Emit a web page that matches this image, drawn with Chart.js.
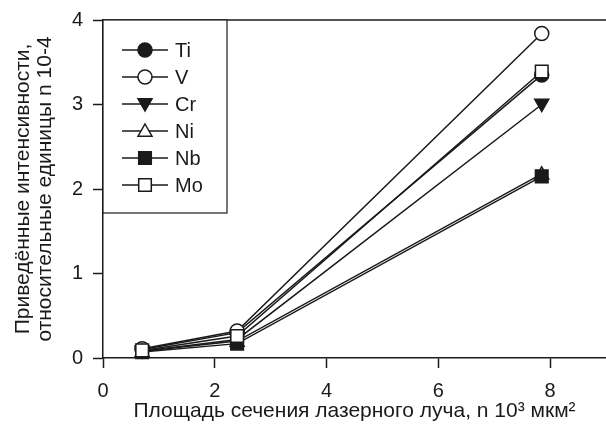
<!DOCTYPE html>
<html>
<head>
<meta charset="utf-8">
<script src="https://cdn.jsdelivr.net/npm/chart.js@4.4.1/dist/chart.umd.min.js"></script>
<style>
  html, body { margin: 0; padding: 0; background: #fff; }
  #wrap { width: 606px; height: 430px; }
</style>
</head>
<body>
<div id="wrap"><canvas id="chart" width="606" height="430"></canvas></div>
<script>
// площадь сечения, 10^3 мкм^2
const xValues = [0.7, 2.4, 7.85];

const seriesNames = ['Ti', 'V', 'Cr', 'Ni', 'Nb', 'Mo'];
const tiValues = [0.10, 0.30, 3.35];
const vValues  = [0.11, 0.32, 3.84];
const crValues = [0.08, 0.22, 3.00];
const niValues = [0.08, 0.20, 2.18];
const nbValues = [0.07, 0.17, 2.15];
const moValues = [0.09, 0.26, 3.39];

const xTicks = [0, 2, 4, 6, 8];
const yTicks = [0, 1, 2, 3, 4];

const ink = '#1a1a1a';
const family = '"Liberation Sans", Arial, sans-serif';
const tickFont = { family: family, size: 20 };
const titleFont = { family: family, size: 21, lineHeight: 1.05 };

// маркеры в порядке легенды
const markers = [
  { style: 'circle', fill: ink },
  { style: 'circle', fill: '#fff' },
  { style: 'triangleDown', fill: ink },
  { style: 'triangle', fill: '#fff' },
  { style: 'rect', fill: ink },
  { style: 'rect', fill: '#fff' }
];

function drawMarker(ctx, style, fill, x, y, r) {
  ctx.save();
  ctx.beginPath();
  if (style === 'circle') {
    ctx.arc(x, y, r, 0, Math.PI * 2);
  } else if (style === 'rect') {
    ctx.rect(x - r * 0.9, y - r * 0.9, r * 1.8, r * 1.8);
  } else if (style === 'triangle') {
    ctx.moveTo(x, y - r);
    ctx.lineTo(x + r, y + r * 0.75);
    ctx.lineTo(x - r, y + r * 0.75);
    ctx.closePath();
  } else {
    ctx.moveTo(x - r, y - r * 0.75);
    ctx.lineTo(x + r, y - r * 0.75);
    ctx.lineTo(x, y + r);
    ctx.closePath();
  }
  ctx.fillStyle = fill;
  ctx.fill();
  ctx.lineWidth = 1.5;
  ctx.strokeStyle = ink;
  ctx.stroke();
  ctx.restore();
}

// кастомная отрисовка точек и легенды
const markerPlugin = {
  id: 'markerPlugin',
  afterDatasetsDraw(chart) {
    const ctx = chart.ctx;
    const area = chart.chartArea;
    // верхняя рамка
    ctx.save();
    ctx.strokeStyle = ink;
    ctx.lineWidth = 1.5;
    ctx.beginPath();
    ctx.moveTo(area.left, area.top);
    ctx.lineTo(area.right, area.top);
    ctx.stroke();
    ctx.restore();

    // точки
    chart.data.datasets.forEach((ds, i) => {
      const meta = chart.getDatasetMeta(i);
      meta.data.forEach(pt => {
        drawMarker(ctx, markers[i].style, markers[i].fill, pt.x, pt.y, 7);
      });
    });

    // легенда
    const boxL = area.left, boxT = area.top, boxR = 227, boxB = 213;
    ctx.save();
    ctx.fillStyle = '#fff';
    ctx.fillRect(boxL, boxT, boxR - boxL, boxB - boxT);
    ctx.strokeStyle = ink;
    ctx.lineWidth = 1.2;
    ctx.strokeRect(boxL, boxT, boxR - boxL, boxB - boxT);
    ctx.font = '20px ' + family;
    ctx.textBaseline = 'middle';
    ctx.textAlign = 'left';
    chart.data.datasets.forEach((ds, i) => {
      const y = 50 + i * 27;
      ctx.strokeStyle = ink;
      ctx.lineWidth = 1.5;
      ctx.beginPath();
      ctx.moveTo(122, y);
      ctx.lineTo(168, y);
      ctx.stroke();
      drawMarker(ctx, markers[i].style, markers[i].fill, 145, y, 7);
      ctx.fillStyle = ink;
      ctx.fillText(ds.label, 175, y + 1);
    });
    ctx.restore();
  }
};

const allValues = [tiValues, vValues, crValues, niValues, nbValues, moValues];
const datasets = allValues.map((vals, i) => ({
  label: seriesNames[i],
  data: vals.map((v, k) => ({ x: xValues[k], y: v })),
  showLine: true,
  borderColor: ink,
  borderWidth: 1.5,
  pointRadius: 0,
  order: 5 - i
}));

new Chart(document.getElementById('chart'), {
  type: 'scatter',
  data: { datasets: datasets },
  options: {
    responsive: false,
    animation: false,
    layout: { padding: { top: 20, right: 0, left: 0, bottom: 0 } },
    plugins: {
      legend: { display: false },
      tooltip: { enabled: false }
    },
    scales: {
      x: {
        type: 'linear',
        min: 0,
        max: 9,
        afterBuildTicks: s => { s.ticks = xTicks.map(v => ({ value: v })); },
        afterFit: s => { s.height = 72; s.paddingLeft = 0; s.paddingRight = 0; },
        grid: { drawOnChartArea: false, color: ink, tickLength: 10, tickWidth: 1.5 },
        border: { color: ink, width: 1.5 },
        ticks: { color: ink, font: tickFont, padding: 11, maxRotation: 0 },
        title: {
          display: true,
          text: 'Площадь сечения лазерного луча, n 10³ мкм²',
          color: ink,
          font: { family: family, size: 21 },
          padding: { top: 0, bottom: 6 }
        }
      },
      y: {
        type: 'linear',
        min: 0,
        max: 4,
        afterBuildTicks: s => { s.ticks = yTicks.map(v => ({ value: v })); },
        afterFit: s => { s.width = 103; s.paddingTop = 0; s.paddingBottom = 0; },
        grid: { drawOnChartArea: false, color: ink, tickLength: 10, tickWidth: 1.5 },
        border: { color: ink, width: 1.5 },
        ticks: { color: ink, font: tickFont, padding: 10 },
        title: {
          display: true,
          text: ['Приведённые интенсивности,', 'относительные единицы n 10-4'],
          color: ink,
          font: titleFont,
          padding: { top: 12, bottom: 0 }
        }
      }
    }
  },
  plugins: [markerPlugin]
});
</script>
</body>
</html>
